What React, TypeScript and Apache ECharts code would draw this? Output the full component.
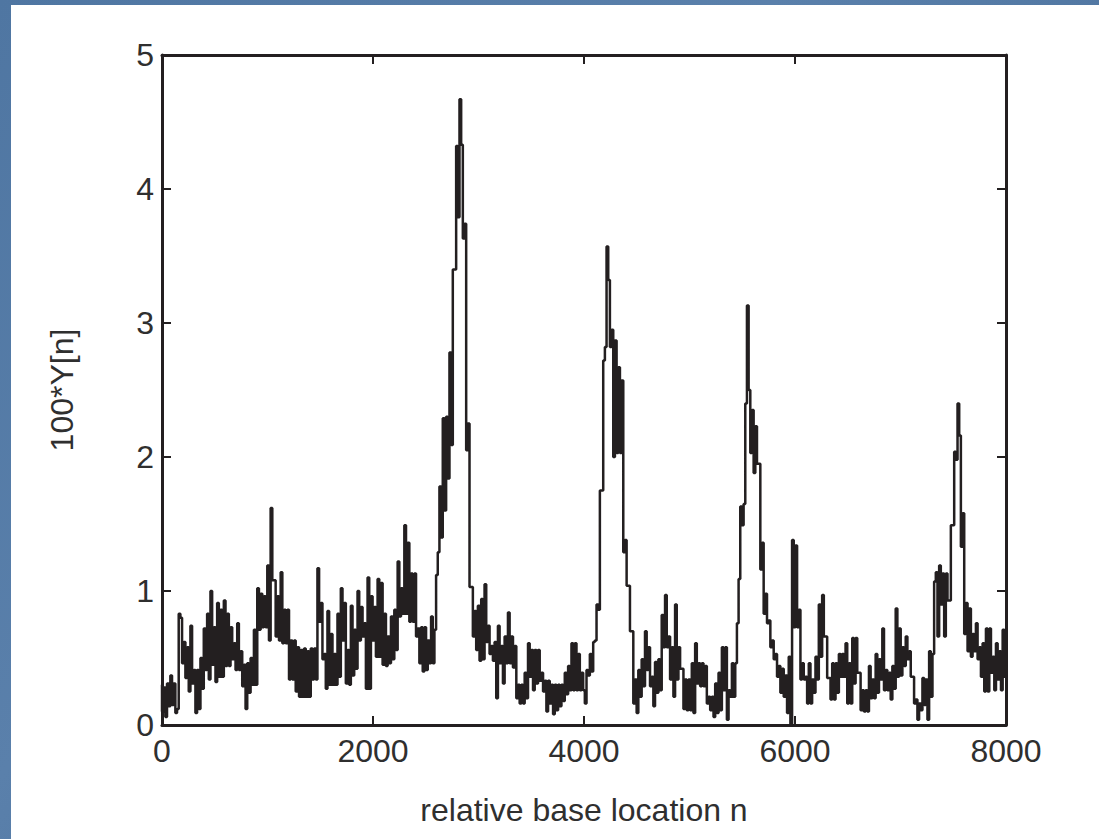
import React, { useEffect, useRef } from "react";
import * as echarts from "echarts";

// Values of 100*Y[n], two readings (upper / lower) per step,
// listed left to right over the relative base location range 0 .. 8000.
const segA = [
  0.30, 0.10, 0.28, 0.06, 0.31, 0.14, 0.37, 0.15, 0.31, 0.09, 0.12, 0.83, 0.80, 0.46, 0.62, 0.35,
  0.58, 0.25, 0.74, 0.31, 0.41, 0.09, 0.41, 0.12, 0.50, 0.27, 0.72, 0.41, 0.83, 0.34, 1.00, 0.45,
  0.73, 0.32, 0.91, 0.36, 0.86, 0.36, 0.93, 0.44, 0.83, 0.44, 0.73, 0.49, 0.61, 0.41, 0.76, 0.41,
  0.55, 0.29, 0.45, 0.12, 0.46, 0.24, 0.50, 0.30, 0.71, 0.30, 1.02, 0.71, 0.98, 0.73, 0.96, 0.73,
  1.19, 0.63, 1.62, 1.08, 1.08, 0.66, 0.96, 0.63, 1.14, 0.61, 0.86, 0.61, 0.86, 0.34, 0.63, 0.34,
  0.63, 0.25, 0.58, 0.21, 0.56, 0.21,
];
const segB = [
  0.57, 0.21, 0.55, 0.21, 0.57, 0.34, 0.57, 0.34, 1.17, 0.77, 0.91, 0.49, 0.53, 0.27, 0.85, 0.30,
  0.68, 0.30, 0.53, 0.30, 0.83, 0.36, 1.02, 0.63, 0.91, 0.31, 0.56, 0.30, 0.89, 0.37, 0.71, 0.42,
  1.00, 0.63, 0.88, 0.66, 0.76, 0.27, 1.10, 0.27, 0.96, 0.63, 0.88, 0.51, 1.09, 0.51, 1.06, 0.45,
  0.83, 0.44, 0.66, 0.46, 0.81, 0.49, 0.86, 0.56, 1.22, 0.81, 1.02, 0.83, 1.49, 0.83, 1.36, 0.77,
  1.13, 0.77, 1.13, 0.66, 0.72, 0.46, 0.73, 0.40, 0.73, 0.41, 0.63, 0.46, 0.81, 0.46, 0.71, 1.12,
  1.29, 1.78, 1.40, 2.29,
];
const segC = [
  1.60, 2.30, 1.84, 2.78, 2.09, 3.40, 3.40, 4.32, 3.79, 4.67, 4.33, 3.63, 3.74, 2.05, 2.25, 1.03,
  1.03, 0.66, 0.85, 0.56, 0.89, 0.48, 0.94, 0.49, 1.05, 0.62, 0.74, 0.53, 0.59, 0.48, 0.62, 0.20,
  0.74, 0.46, 0.59, 0.31, 0.66, 0.46, 0.84, 0.46, 0.66, 0.43, 0.59, 0.20, 0.30, 0.16, 0.30, 0.16,
  0.39, 0.20, 0.61, 0.36, 0.56, 0.26, 0.56, 0.31, 0.56, 0.33, 0.39, 0.25, 0.33, 0.10, 0.33, 0.16,
  0.30, 0.08, 0.30, 0.11, 0.30, 0.14, 0.30, 0.18, 0.39, 0.23, 0.44, 0.26, 0.61, 0.26, 0.61, 0.26,
  0.53, 0.26, 0.39, 0.26,
];
const segD = [
  0.16, 0.41, 0.37, 0.53, 0.40, 0.62, 0.63, 0.90, 0.86, 1.75, 1.75, 2.72, 2.82, 3.57, 3.32, 2.82,
  2.95, 2.00, 2.87, 2.03, 2.67, 2.03, 2.57, 1.29, 1.38, 1.04, 1.04, 0.70, 0.70, 0.16, 0.34, 0.09,
  0.41, 0.21, 0.49, 0.29, 0.70, 0.41, 0.58, 0.29, 0.36, 0.14, 0.47, 0.24, 0.49, 0.26, 0.82, 0.58,
  0.97, 0.58, 0.66, 0.34, 0.58, 0.21, 0.90, 0.34, 0.58, 0.42, 0.42, 0.12, 0.34, 0.11, 0.34, 0.11,
  0.46, 0.09, 0.61, 0.31, 0.46, 0.29, 0.46, 0.29, 0.44, 0.16, 0.21, 0.11, 0.21, 0.06, 0.31, 0.09,
  0.39, 0.11, 0.58, 0.26,
];
const segE = [
  0.58, 0.04, 0.26, 0.21, 0.46, 0.21, 0.46, 0.76, 1.09, 1.63, 1.49, 1.65, 2.40, 3.13, 2.50, 2.03,
  2.35, 1.88, 2.23, 1.95, 1.95, 1.16, 1.36, 0.83, 0.98, 0.76, 0.78, 0.58, 0.63, 0.49, 0.53, 0.36,
  0.44, 0.24, 0.42, 0.21, 0.37, 0.09, 0.51, 0.00, 1.38, 0.73, 1.34, 0.73, 0.86, 0.34, 0.46, 0.34,
  0.36, 0.16, 0.46, 0.16, 0.34, 0.24, 0.51, 0.34, 0.90, 0.51, 0.97, 0.66, 0.66, 0.35, 0.35, 0.19,
  0.46, 0.19, 0.46, 0.24, 0.53, 0.36, 0.53, 0.36, 0.61, 0.16, 0.46, 0.16, 0.65, 0.31, 0.65, 0.39,
  0.39, 0.11, 0.26, 0.10,
];
const segF = [
  0.26, 0.10, 0.44, 0.20, 0.34, 0.20, 0.53, 0.24, 0.49, 0.34, 0.72, 0.26, 0.41, 0.26, 0.39, 0.19,
  0.44, 0.27, 0.87, 0.36, 0.72, 0.37, 0.58, 0.44, 0.66, 0.49, 0.55, 0.36, 0.36, 0.16, 0.19, 0.04,
  0.16, 0.11, 0.35, 0.15, 0.34, 0.04, 0.55, 0.21, 0.53, 1.07, 1.14, 0.66, 1.19, 0.90, 1.13, 0.66,
  1.13, 0.93, 0.93, 1.49, 1.49, 2.04, 1.98, 2.40, 2.16, 1.33, 1.58, 0.68, 0.91, 0.55, 0.87, 0.51,
  0.68, 0.55, 0.76, 0.49, 0.58, 0.36, 0.61, 0.25, 0.72, 0.25, 0.72, 0.39, 0.51, 0.26, 0.61, 0.34,
  0.55, 0.26, 0.71, 0.36,
];

const X_MAX = 8000;
const xTicks = [0, 2000, 4000, 6000, 8000];
const yTicks = [0, 1, 2, 3, 4, 5];
const X_TITLE = "relative base location n";
const Y_TITLE = "100*Y[n]";

const values = [...segA, ...segB, ...segC, ...segD, ...segE, ...segF];
const points = values.map((v, i) => [(i * X_MAX) / (values.length - 1), v]);

const FONT = "'Liberation Sans', Arial, Helvetica, sans-serif";
const INK = "#231f20";
const TXT = "#2f2f2f";

export default function App() {
  const ref = useRef<HTMLDivElement>(null);

  useEffect(() => {
    document.body.style.margin = "0";
    if (!ref.current) return;
    const chart = echarts.init(ref.current, undefined, { renderer: "svg" });
    const axisLine = { show: true, onZero: false, lineStyle: { color: INK, width: 3 } };
    const axisTick = { show: true, inside: true, length: 9, lineStyle: { color: INK, width: 2 } };
    const label = {
      fontSize: 32,
      color: TXT,
      fontFamily: FONT,
      showMinLabel: true,
      showMaxLabel: true,
      formatter: (v: number) => String(v),
    };
    chart.setOption({
      animation: false,
      backgroundColor: "#ffffff",
      grid: { left: 151, top: 50, right: 93, bottom: 114, containLabel: false },
      xAxis: [
        {
          type: "value",
          position: "bottom",
          min: xTicks[0],
          max: xTicks[xTicks.length - 1],
          interval: 2000,
          axisLine,
          axisTick,
          axisLabel: { ...label, margin: 10 },
          splitLine: { show: false },
          name: X_TITLE,
          nameLocation: "middle",
          nameGap: 69,
          nameTextStyle: { fontSize: 32, color: TXT, fontFamily: FONT },
        },
        {
          type: "value",
          position: "top",
          min: xTicks[0],
          max: xTicks[xTicks.length - 1],
          interval: 2000,
          axisLine,
          axisTick,
          axisLabel: { show: false },
          splitLine: { show: false },
        },
      ],
      yAxis: [
        {
          type: "value",
          position: "left",
          min: yTicks[0],
          max: yTicks[yTicks.length - 1],
          interval: 1,
          axisLine,
          axisTick,
          axisLabel: { ...label, margin: 8 },
          splitLine: { show: false },
          name: Y_TITLE,
          nameLocation: "middle",
          nameGap: 84,
          nameTextStyle: { fontSize: 32, color: TXT, fontFamily: FONT },
        },
        {
          type: "value",
          position: "right",
          min: yTicks[0],
          max: yTicks[yTicks.length - 1],
          interval: 1,
          axisLine,
          axisTick,
          axisLabel: { show: false },
          splitLine: { show: false },
        },
      ],
      series: [
        {
          type: "line",
          xAxisIndex: 0,
          yAxisIndex: 0,
          data: points,
          step: "start",
          showSymbol: false,
          symbol: "none",
          lineStyle: { color: INK, width: 2.5 },
          silent: true,
        },
      ],
    });
    return () => chart.dispose();
  }, []);

  return (
    <div
      style={{
        position: "fixed",
        left: 0,
        top: 0,
        width: 1099,
        height: 839,
        background: "linear-gradient(135deg, #4f76a2 0%, #5a80ab 40%, #4c729d 70%, #5479a4 100%)",
      }}
    >
      <div
        ref={ref}
        style={{ position: "absolute", left: 11, top: 5, width: 1088, height: 834 }}
      />
    </div>
  );
}
